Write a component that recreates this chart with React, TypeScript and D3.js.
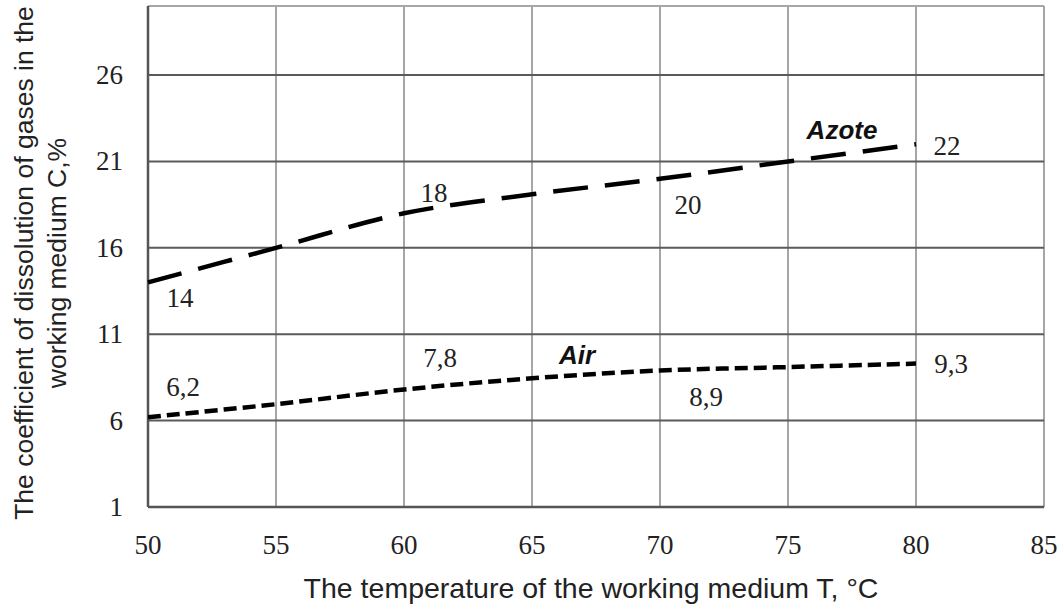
import React from 'react';
import * as d3 from 'd3';

// temperature, °C
const temps = [50, 55, 60, 65, 70, 75, 80];
// coefficient of dissolution, %
const azote = [14, 16, 18, 19.1, 20, 21, 22];
const air = [6.2, 6.95, 7.8, 8.45, 8.9, 9.1, 9.3];

const xTicks = [50, 55, 60, 65, 70, 75, 80, 85];
const yTicks = [1, 6, 11, 16, 21, 26];

// value labels written next to the curves
const azoteLabels = [
  { t: 50, text: '14' },
  { t: 60, text: '18' },
  { t: 70, text: '20' },
  { t: 80, text: '22' },
];
const airLabels = [
  { t: 50, text: '6,2' },
  { t: 60, text: '7,8' },
  { t: 70, text: '8,9' },
  { t: 80, text: '9,3' },
];
// label offsets from their point (px)
const azoteOffsets = [[32, 25], [30, -11], [28, 35], [31, 11]];
const airOffsets = [[35, -21], [36, -23], [46, 35], [35, 9]];

const W = 1064;
const H = 607;
const left = 148, right = 1044, top = 6, bottom = 507;

export default function App() {
  const x = d3.scaleLinear().domain([50, 85]).range([left, right]);
  const y = d3.scaleLinear().domain([1, 30]).range([bottom, top]);

  const line = d3.line<number>()
    .x((_, i) => x(temps[i]))
    .y(d => y(d))
    .curve(d3.curveCatmullRom.alpha(0.5));

  const serif = '"Liberation Serif", "Times New Roman", serif';
  const sans = '"Liberation Sans", Arial, sans-serif';

  const pointLabels = (labels, values, offsets) =>
    labels.map((l, i) => {
      const v = values[temps.indexOf(l.t)];
      return (
        <text key={l.text} x={x(l.t) + offsets[i][0]} y={y(v) + offsets[i][1]}
          textAnchor="middle" fontFamily={serif} fontSize={27} fill="#222">
          {l.text}
        </text>
      );
    });

  return (
    <svg width={W} height={H} style={{ position: 'absolute', left: 0, top: 0, background: '#fff' }}>
      {/* vertical grid */}
      {xTicks.slice(1).map(t => (
        <line key={'v' + t} x1={x(t)} x2={x(t)} y1={top} y2={bottom} stroke="#a6a6a6" strokeWidth={2} />
      ))}
      {/* top frame */}
      <line x1={left} x2={right} y1={top} y2={top} stroke="#a6a6a6" strokeWidth={2} />
      {/* horizontal grid */}
      {yTicks.slice(1).map(t => (
        <line key={'h' + t} x1={left} x2={right} y1={y(t)} y2={y(t)} stroke="#5a5a5a" strokeWidth={2} />
      ))}
      {/* axes */}
      <line x1={left} x2={left} y1={top} y2={bottom} stroke="#555" strokeWidth={2.5} />
      <line x1={left} x2={right} y1={bottom} y2={bottom} stroke="#555" strokeWidth={2.5} />

      {xTicks.map(t => (
        <text key={'xt' + t} x={x(t)} y={554} textAnchor="middle" fontFamily={serif} fontSize={27} fill="#222">{t}</text>
      ))}
      {yTicks.map(t => (
        <text key={'yt' + t} x={123} y={y(t) + 9} textAnchor="end" fontFamily={serif} fontSize={27} fill="#222">{t}</text>
      ))}

      <path d={line(azote) || ''} fill="none" stroke="#000" strokeWidth={4.5} strokeDasharray="35 17" />
      <path d={line(air) || ''} fill="none" stroke="#000" strokeWidth={4.5} strokeDasharray="13 6" />

      {pointLabels(azoteLabels, azote, azoteOffsets)}
      {pointLabels(airLabels, air, airOffsets)}

      <text x={842} y={139} textAnchor="middle" fontFamily={sans} fontSize={26} fontWeight="bold" fontStyle="italic" fill="#111">Azote</text>
      <text x={577} y={364} textAnchor="middle" fontFamily={sans} fontSize={26} fontWeight="bold" fontStyle="italic" fill="#111">Air</text>

      <text x={591} y={598} textAnchor="middle" fontFamily={sans} fontSize={28.5} fill="#222">
        The temperature of the working medium T, °C
      </text>
      <g transform="translate(0,263) rotate(-90)">
        <text x={0} y={33} textAnchor="middle" fontFamily={sans} fontSize={26.5} fill="#222">
          The coefficient of dissolution of gases in the
        </text>
        <text x={0} y={66} textAnchor="middle" fontFamily={sans} fontSize={26.5} fill="#222">
          working medium C,%
        </text>
      </g>
    </svg>
  );
}
